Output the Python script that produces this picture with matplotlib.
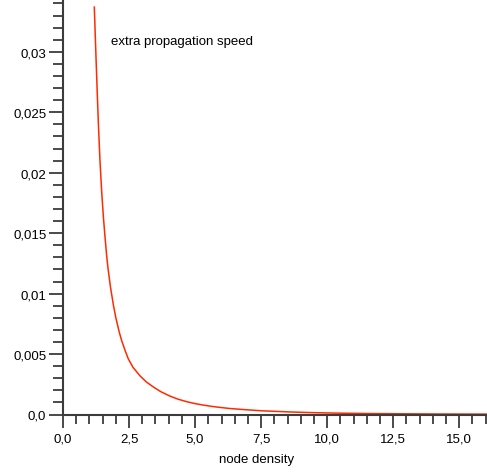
import matplotlib
matplotlib.use("Agg")
import matplotlib.pyplot as plt
from matplotlib.ticker import MultipleLocator

plt.rcParams["font.family"] = ["Liberation Sans", "DejaVu Sans"]

# values
density = [1.185, 1.25, 1.30, 1.344, 1.40, 1.465, 1.53, 1.59, 1.65, 1.703,
           1.80, 1.904, 2.0, 2.131, 2.222, 2.35, 2.472, 2.65, 2.914, 3.15,
           3.418, 3.7, 4.05, 4.35, 4.682, 5.0, 5.31, 5.6, 5.93, 6.3, 6.7,
           7.5, 8.59, 9.5, 10.48, 11.5, 12.75, 14.3, 16.05]
speed = [0.0337, 0.0295, 0.0264, 0.0238, 0.0210, 0.0184, 0.0163, 0.0147,
         0.0132, 0.0121, 0.0105, 0.0091, 0.0080, 0.0068, 0.0061, 0.0053,
         0.0046, 0.0039, 0.0032, 0.0027, 0.00228, 0.00189, 0.00152, 0.00127,
         0.00106, 0.00090, 0.00078, 0.00068, 0.00059, 0.00050, 0.00043,
         0.00031, 0.00021, 0.00015, 0.00011, 0.00008, 0.00006, 0.00004,
         0.00003]

x_ticks = [0.0, 2.5, 5.0, 7.5, 10.0, 12.5, 15.0]
x_labels = ["0,0", "2,5", "5,0", "7,5", "10,0", "12,5", "15,0"]
y_ticks = [0.0, 0.005, 0.01, 0.015, 0.02, 0.025, 0.03]
y_labels = ["0,0", "0,005", "0,01", "0,015", "0,02", "0,025", "0,03"]

fig = plt.figure(figsize=(4.87, 4.77), dpi=100)
ax = fig.add_axes([63 / 487, 61.5 / 477, 1 - 63 / 487, 1 - 61.5 / 477])

ax.plot(density, speed, color="#ff2a00", linewidth=1.1)

ax.set_xlim(0, 16.05)
ax.set_ylim(0, 0.03437)

ax.set_xticks(x_ticks)
ax.set_xticklabels(x_labels)
ax.set_yticks(y_ticks)
ax.set_yticklabels(y_labels)
ax.xaxis.set_minor_locator(MultipleLocator(0.5))
ax.yaxis.set_minor_locator(MultipleLocator(0.001))

spine_col = "#3c3c3c"
for side in ["top", "right"]:
    ax.spines[side].set_visible(False)
for side in ["left", "bottom"]:
    ax.spines[side].set_color(spine_col)
    ax.spines[side].set_linewidth(1.5)

ax.tick_params(axis="y", which="major", direction="out", length=10, width=1.3,
               color=spine_col, labelsize=9.5, pad=2)
ax.tick_params(axis="y", which="minor", direction="out", length=7, width=1.3,
               color=spine_col)
ax.tick_params(axis="x", which="major", direction="out", length=9, width=1.3,
               color=spine_col, labelsize=9.5, pad=4)
ax.tick_params(axis="x", which="minor", direction="out", length=6.5, width=1.3,
               color=spine_col)

ax.text(1.817, 0.0309, "extra propagation speed", fontsize=9.5,
        ha="left", va="center")
fig.text(257 / 487, 1 - 460 / 477, "node density", fontsize=9.5,
         ha="center", va="center")

fig.savefig("out.png", dpi=100)
